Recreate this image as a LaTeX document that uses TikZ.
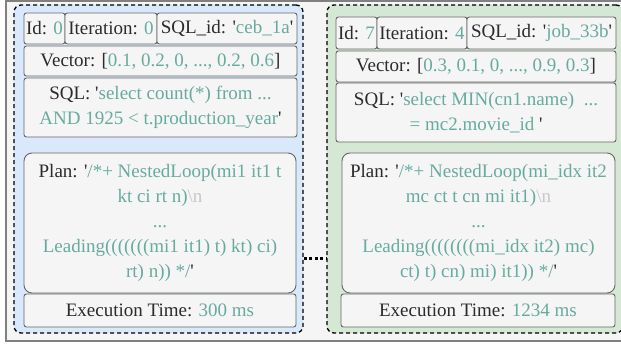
\documentclass[tikz,border=0pt]{standalone}
\usepackage{fontspec}
\setmainfont{Liberation Serif}[Ligatures=TeXOff]

\definecolor{lblgray}{HTML}{2B2B2B}
\definecolor{valteal}{HTML}{67AB9F}
\definecolor{nlgray}{HTML}{C8C8C8}
\definecolor{cellfill}{HTML}{F5F5F5}
\definecolor{cellline}{HTML}{666666}
\definecolor{framegray}{HTML}{808080}
\definecolor{bluefill}{HTML}{DAE8FC}
\definecolor{greenfill}{HTML}{D5E8D4}

\newcommand{\val}[1]{\textcolor{valteal}{#1}}
\newcommand{\nlmark}{\textcolor{nlgray}{\textbackslash n}}

\tikzset{
    record/.style={draw=black, line width=1.3pt, dash pattern=on 4pt off 3pt, rounded corners=7pt},
    cell/.style={draw=cellline, fill=cellfill, line width=0.9pt, rounded corners=2.5pt,
        inner sep=1pt, align=center, text=lblgray, font=\fontsize{19}{25}\selectfont},
    plancell/.style={cell, rounded corners=8pt},
    dotline/.style={line width=3pt, dash pattern=on 3pt off 2.6pt}
}

\begin{document}
\begin{tikzpicture}[x=1pt, y=-1pt]

    \useasboundingbox (0,0) rectangle (621,345);

    % Outer frame (runs past the right edge)
    \draw[draw=framegray, fill=cellfill, line width=1.5pt] (6,1) rectangle (640,341);

    % ==========================================
    % Record 1: ceb_1a
    % ==========================================
    \node[record, fill=bluefill, minimum width=289pt, minimum height=328pt] (recA) at (158.5,169) {};

    \node[cell, minimum width=41pt, minimum height=31pt] (idA) at (44.5,28.5) {Id: \val{0}};
    \node[cell, minimum width=92pt, minimum height=31pt] (iterA) at (111,28.5) {Iteration: \val{0}};
    \node[cell, minimum width=140pt, minimum height=31pt] (sqlidA) at (227,28.5) {SQL\_id: '\val{ceb\_1a}'};
    \node[cell, minimum width=273pt, minimum height=30pt] (vecA) at (160.5,61) {Vector: [\val{0.1, 0.2, 0, ..., 0.2, 0.6}]};
    \node[cell, minimum width=273pt, minimum height=59pt] (sqlA) at (160.5,107.5)
        {SQL: '\val{select count(*) from ...}\\\val{AND 1925 < t.production\_year}'};
    \node[plancell, minimum width=272pt, minimum height=140pt] (planA) at (160,223)
        {Plan: '\val{/*+ NestedLoop(mi1 it1 t}\\\val{kt ci rt n)}\nlmark\\\val{...}\\
         \val{Leading(((((((mi1 it1) t) kt) ci)}\\\val{rt) n)) */}'};
    \node[cell, minimum width=272pt, minimum height=33pt] (timeA) at (160,310.5) {Execution Time: \val{300 ms}};

    % ==========================================
    % Record 2: job_33b
    % ==========================================
    \node[record, fill=greenfill, minimum width=296pt, minimum height=328pt] (recB) at (475,169) {};

    \node[cell, minimum width=41pt, minimum height=32pt] (idB) at (356.5,33) {Id: \val{7}};
    \node[cell, minimum width=90pt, minimum height=32pt] (iterB) at (422,33) {Iteration: \val{4}};
    \node[cell, minimum width=149pt, minimum height=32pt] (sqlidB) at (541.5,33) {SQL\_id: '\val{job\_33b}'};
    \node[cell, minimum width=280pt, minimum height=31pt] (vecB) at (476,66.5) {Vector: [\val{0.3, 0.1, 0, ..., 0.9, 0.3}]};
    \node[cell, minimum width=280pt, minimum height=59pt] (sqlB) at (476,112.5)
        {SQL: '\val{select MIN(cn1.name)~~...}\\\val{= mc2.movie\_id }'};
    \node[plancell, minimum width=273pt, minimum height=140pt] (planB) at (478.5,223)
        {Plan: '\val{/*+ NestedLoop(mi\_idx it2}\\\val{mc ct t cn mi it1)}\nlmark\\\val{...}\\
         \val{Leading((((((((mi\_idx it2) mc)}\\\val{ct) t) cn) mi) it1)) */}'};
    \node[cell, minimum width=274pt, minimum height=33pt] (timeB) at (478,310.5) {Execution Time: \val{1234 ms}};

    % Dotted link between the two records
    \draw[dotline] ([yshift=-89pt]recA.east) -- ([yshift=-89pt]recB.west);

\end{tikzpicture}
\end{document}
